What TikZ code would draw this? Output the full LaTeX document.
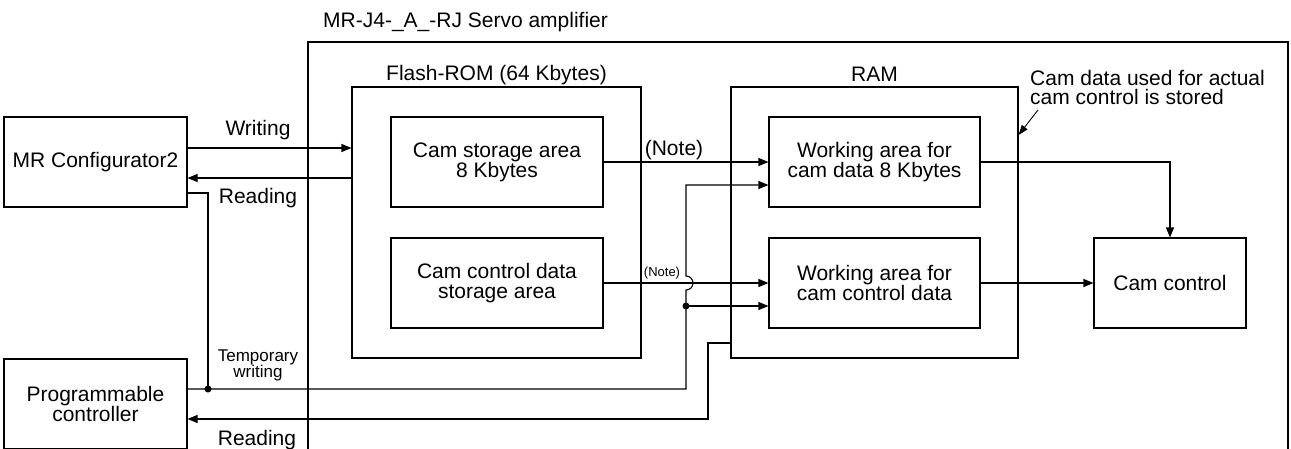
\documentclass[tikz,border=0pt]{standalone}
\usepackage{fontspec}
\setmainfont{Liberation Sans}
\usetikzlibrary{arrows.meta}
\begin{document}
\begin{tikzpicture}[x=1pt,y=-1pt,
  every node/.style={inner sep=0pt},
  ln/.style={line width=1.1pt},
  box/.style={draw, ln, align=center, font=\fontsize{21}{20}\selectfont, minimum height=90pt},
  frame/.style={draw, ln},
  lbl/.style={font=\fontsize{21}{20}\selectfont},
  smalllbl/.style={font=\fontsize{13}{13}\selectfont},
  midlbl/.style={font=\fontsize{17}{16}\selectfont, align=center},
  arr/.style={ln, -{Triangle[length=10pt,width=8pt]}},
  jdot/.style={circle, fill, minimum size=7pt, inner sep=0pt}]
\useasboundingbox (0,0) rectangle (1291,448);
\clip (0,0) rectangle (1291,448);

% containers
\node[frame, minimum width=980pt, minimum height=420pt] (servo) at (798,252) {};
\node[lbl, anchor=base west] (title) at (323,27) {MR-J4-\_A\_-RJ Servo amplifier};
\node[frame, minimum width=289pt, minimum height=271pt] (flash) at (496.5,222.5) {};
\node[lbl, anchor=base] (flashlbl) at (496.5,80) {Flash-ROM (64 Kbytes)};
\node[frame, minimum width=287pt, minimum height=271pt] (ram) at (874.5,222.5) {};
\node[lbl, anchor=base] (ramlbl) at (874.5,81) {RAM};

% boxes
\node[box, minimum width=183pt] (mrc) at (95.5,162) {MR Configurator2};
\node[box, minimum width=183pt] (plc) at (95.5,404) {Programmable\\controller};
\node[box, minimum width=212pt] (cs) at (497,162) {Cam storage area\\8 Kbytes};
\node[box, minimum width=212pt] (ccs) at (497,283) {Cam control data\\storage area};
\node[box, minimum width=211pt] (wa1) at (874.5,162) {Working area for\\cam data 8 Kbytes};
\node[box, minimum width=211pt] (wa2) at (874.5,283) {Working area for\\cam control data};
\node[box, minimum width=152pt] (cc) at (1170,283) {Cam control};

% junctions
\coordinate (j1) at (208,389);
\coordinate (j2) at (686,306);

% connectors
\draw[arr] (mrc.east |- 0,148) -- (flash.west |- 0,148);
\draw[arr] (flash.west |- 0,178) -- (mrc.east |- 0,178);
\draw[ln] (mrc.east |- 0,193) -| (j1);
\draw[arr] (plc.east |- j1) -- (686,389) -- (686,290)
  arc[start angle=-90, end angle=90, radius=7pt] -- (686,185) -- (wa1.west |- 0,185);
\draw[arr] (j2) -- (wa2.west |- j2);
\node[jdot] at (j1) {};
\node[jdot] at (j2) {};
\draw[arr] (cs.east) -- (wa1.west);
\draw[arr] (ccs.east) -- (wa2.west);
\draw[arr] (ram.west |- 0,343) -- (708,343) -- (708,419) -- (plc.east |- 0,419);
\draw[arr] (wa1.east) -| (cc.north);
\draw[arr] (wa2.east) -- (cc.west);

% annotation
\node[lbl, align=left, anchor=north west, font=\fontsize{21}{19}\selectfont] (note) at (1030,70) {Cam data used for actual\\cam control is stored};
\coordinate (annot) at (1038,110);
\draw[line width=0.9pt, -{Triangle[length=10pt,width=7pt]}] (annot) -- (ram.east |- 0,135);

% labels
\node[lbl, anchor=base] (wlbl) at (258,135) {Writing};
\node[lbl, anchor=base] (rlbl1) at (258,203) {Reading};
\node[midlbl] (tlbl) at (258,365) {Temporary\\writing};
\node[lbl, anchor=base] (rlbl2) at (257,445) {Reading};
\node[lbl, anchor=base] (note1) at (674,155) {(Note)};
\node[smalllbl, anchor=base] (note2) at (662,276) {(Note)};
\end{tikzpicture}
\end{document}
